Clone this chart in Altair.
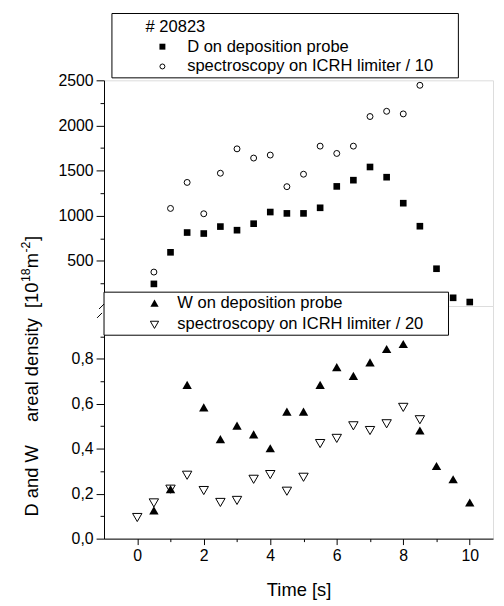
import altair as alt
import pandas as pd

# ---------------- data ----------------
time_d = [0.5, 1, 1.5, 2, 2.5, 3, 3.5, 4, 4.5, 5, 5.5, 6, 6.5, 7, 7.5, 8, 8.5, 9, 9.5, 10]
d_probe = [245, 595, 814, 803, 880, 840, 912, 1041, 1026, 1026, 1088, 1325, 1394, 1540, 1427, 1139, 884, 413, 91, 44]

time_d_spec = [0.5, 1, 1.5, 2, 2.5, 3, 3.5, 4, 4.5, 5, 5.5, 6, 6.5, 7, 7.5, 8, 8.5]
d_spec = [376, 1081, 1369, 1022, 1471, 1741, 1639, 1672, 1322, 1460, 1771, 1690, 1771, 2099, 2157, 2128, 2445]

time_w = [0.5, 1, 1.5, 2, 2.5, 3, 3.5, 4, 4.5, 5, 5.5, 6, 6.5, 7, 7.5, 8, 8.5, 9, 9.5, 10]
w_probe = [0.126, 0.22, 0.684, 0.584, 0.443, 0.503, 0.464, 0.402, 0.565, 0.565, 0.684, 0.763, 0.724, 0.784, 0.844, 0.866, 0.481, 0.323, 0.264, 0.161]

time_w_spec = [0, 0.5, 1, 1.5, 2, 2.5, 3, 3.5, 4, 4.5, 5, 5.5, 6, 6.5, 7, 7.5, 8, 8.5]
w_spec = [0.094, 0.159, 0.22, 0.282, 0.214, 0.161, 0.170, 0.264, 0.285, 0.211, 0.273, 0.423, 0.446, 0.502, 0.481, 0.511, 0.584, 0.529]

x_ticks = [0, 1, 2, 3, 4, 5, 6, 7, 8, 9, 10]
d_ticks = [250, 500, 750, 1000, 1250, 1500, 1750, 2000, 2250, 2500]
w_ticks = [0.0, 0.1, 0.2, 0.3, 0.4, 0.5, 0.6, 0.7, 0.8, 0.9]

shot_label = "# 20823"
legend_top = ["D on deposition probe", "spectroscopy on ICRH limiter / 10"]
legend_bot = ["W on deposition probe", "spectroscopy on ICRH limiter / 20"]
x_title = "Time [s]"
y_title_main = "D and W\u2003\u00a0areal density \u00a0[10"
y_title_sup1 = "18"
y_title_mid = "m"
y_title_sup2 = "-2"
y_title_end = "]"

# ---------------- styling ----------------
FONT = "Liberation Sans"
FS = 16          # tick labels
FS_LEG = 16.7    # legend text
FS_TITLE = 18.5  # axis titles
FS_SUP = 12.5
W = 393
H_TOP = 228
H_BOT = 235

df_dp = pd.DataFrame({"t": time_d, "v": d_probe})
df_ds = pd.DataFrame({"t": time_d_spec, "v": d_spec})
df_wp = pd.DataFrame({"t": time_w, "v": w_probe})
df_ws = pd.DataFrame({"t": time_w_spec, "v": w_spec})
one = pd.DataFrame({"k": [0]})

x_scale = alt.Scale(domain=[-1, 10.7], nice=False, zero=False)
top_scale = alt.Scale(domain=[0, 2500], nice=False, zero=False)
bot_scale = alt.Scale(domain=[0, 1.035], nice=False, zero=False)

axis_common = dict(
    grid=False, domainColor="black", tickColor="black", labelColor="black",
    labelFont=FONT, labelFontSize=FS, titleFont=FONT, titleFontSize=FS_TITLE,
    titleColor="black", titleFontWeight="normal", domainWidth=1, tickWidth=1,
    labelOverlap=False,
)

top_y_axis = alt.Axis(
    values=d_ticks,
    labelExpr="(datum.value / 500) == round(datum.value / 500) ? format(datum.value, 'd') : ''",
    tickSize={"condition": {"test": "(datum.value / 500) != round(datum.value / 500)", "value": 4}, "value": 8},
    labelPadding=3, title=None, **axis_common,
)
bot_y_axis = alt.Axis(
    values=w_ticks,
    labelExpr="round(datum.value*10) % 2 == 0 ? replace(format(datum.value, '.1f'), '.', ',') : ''",
    tickSize={"condition": {"test": "round(datum.value*10) % 2 == 1", "value": 4}, "value": 8},
    labelPadding=3, title=None, **axis_common,
)
bot_x_axis = alt.Axis(
    values=x_ticks,
    labelExpr="datum.value % 2 == 0 ? datum.label : ''",
    tickSize={"condition": {"test": "datum.value % 2 == 1", "value": 3}, "value": 6},
    labelPadding=3, title=x_title, titlePadding=17, **axis_common,
)

# ---------------- top panel (D) ----------------
sq = alt.Chart(df_dp).mark_point(shape="square", filled=True, color="black", size=45, opacity=1).encode(
    x=alt.X("t:Q", scale=x_scale, axis=None),
    y=alt.Y("v:Q", scale=top_scale, axis=top_y_axis),
)
ci = alt.Chart(df_ds).mark_point(shape="circle", filled=False, color="black", size=36, strokeWidth=1, opacity=1).encode(
    x=alt.X("t:Q", scale=x_scale, axis=None),
    y=alt.Y("v:Q", scale=top_scale, axis=top_y_axis),
)
leg_box_top = alt.Chart(one).mark_rect(fill="white", stroke="black", strokeWidth=1).encode(
    x=alt.value(8), x2=alt.value(358), y=alt.value(-67.5), y2=alt.value(-2.5)
)
txt_kw = dict(font=FONT, fontSize=FS_LEG, color="black", align="left", baseline="middle")
leg_shot = alt.Chart(one).mark_text(**txt_kw).encode(
    x=alt.value(42), y=alt.value(-54), text=alt.value(shot_label))
leg_t1 = alt.Chart(one).mark_text(**txt_kw).encode(
    x=alt.value(84), y=alt.value(-34), text=alt.value(legend_top[0]))
leg_t2 = alt.Chart(one).mark_text(**txt_kw).encode(
    x=alt.value(84), y=alt.value(-14), text=alt.value(legend_top[1]))
leg_s1 = alt.Chart(one).mark_point(shape="square", filled=True, color="black", size=36, opacity=1).encode(
    x=alt.value(59), y=alt.value(-34))
leg_s2 = alt.Chart(one).mark_point(shape="circle", filled=False, color="black", size=25, strokeWidth=1, opacity=1).encode(
    x=alt.value(59), y=alt.value(-14))
# invisible anchors fixing the page-edge alignment (left and top)
anchor = alt.Chart(one).mark_rect(opacity=0).encode(
    x=alt.value(-96), x2=alt.value(-95), y=alt.value(-68.7), y2=alt.value(-67.7))

top = alt.layer(sq, ci, leg_box_top, leg_shot, leg_t1, leg_t2, leg_s1, leg_s2, anchor).properties(
    width=W, height=H_TOP)

# ---------------- bottom panel (W) ----------------
tu = alt.Chart(df_wp).mark_point(shape="triangle-up", filled=True, color="black", size=90, opacity=1).encode(
    x=alt.X("t:Q", scale=x_scale, axis=bot_x_axis),
    y=alt.Y("v:Q", scale=bot_scale, axis=bot_y_axis),
)
td = alt.Chart(df_ws).mark_point(shape="triangle-down", filled=False, color="black", size=90, strokeWidth=1, opacity=1).encode(
    x=alt.X("t:Q", scale=x_scale, axis=bot_x_axis),
    y=alt.Y("v:Q", scale=bot_scale, axis=bot_y_axis),
)
leg_box_bot = alt.Chart(one).mark_rect(fill="white", stroke="black", strokeWidth=1).encode(
    x=alt.value(0), x2=alt.value(348), y=alt.value(-14), y2=alt.value(29.5)
)
leg_b1 = alt.Chart(one).mark_text(**txt_kw).encode(
    x=alt.value(74), y=alt.value(-3), text=alt.value(legend_bot[0]))
leg_b2 = alt.Chart(one).mark_text(**txt_kw).encode(
    x=alt.value(74), y=alt.value(18), text=alt.value(legend_bot[1]))
leg_bs1 = alt.Chart(one).mark_point(shape="triangle-up", filled=True, color="black", size=70, opacity=1).encode(
    x=alt.value(51), y=alt.value(-3))
leg_bs2 = alt.Chart(one).mark_point(shape="triangle-down", filled=False, color="black", size=70, strokeWidth=1, opacity=1).encode(
    x=alt.value(51), y=alt.value(19))
brk1 = alt.Chart(one).mark_rule(color="black", strokeWidth=1).encode(
    x=alt.value(-5), x2=alt.value(0), y=alt.value(3), y2=alt.value(-2))
brk2 = alt.Chart(one).mark_rule(color="black", strokeWidth=1).encode(
    x=alt.value(-7), x2=alt.value(-2), y=alt.value(12), y2=alt.value(7))

# rotated y-axis title assembled from pieces (superscripts)
BX = -67      # baseline x (relative to plot left)
SX = -75      # superscript baseline x
YA = -23.7    # y where "[10" ends
w_sup1 = 2 * 0.556 * FS_SUP
w_m = 0.833 * FS_TITLE
w_sup2 = (0.333 + 0.556) * FS_SUP
rot_kw = dict(font=FONT, color="black", baseline="alphabetic", angle=270)
t_main = alt.Chart(one).mark_text(fontSize=FS_TITLE, align="right", **rot_kw).encode(
    x=alt.value(BX), y=alt.value(YA), text=alt.value(y_title_main))
t_sup1 = alt.Chart(one).mark_text(fontSize=FS_SUP, align="left", **rot_kw).encode(
    x=alt.value(SX), y=alt.value(YA - 0.5), text=alt.value(y_title_sup1))
t_mid = alt.Chart(one).mark_text(fontSize=FS_TITLE, align="left", **rot_kw).encode(
    x=alt.value(BX), y=alt.value(YA - w_sup1 - 0.5), text=alt.value(y_title_mid))
t_sup2 = alt.Chart(one).mark_text(fontSize=FS_SUP, align="left", **rot_kw).encode(
    x=alt.value(SX), y=alt.value(YA - w_sup1 - w_m - 1), text=alt.value(y_title_sup2))
t_end = alt.Chart(one).mark_text(fontSize=FS_TITLE, align="left", **rot_kw).encode(
    x=alt.value(BX), y=alt.value(YA - w_sup1 - w_m - w_sup2 - 1.5), text=alt.value(y_title_end))

bottom = alt.layer(tu, td, leg_box_bot, leg_b1, leg_b2, leg_bs1, leg_bs2, brk1, brk2,
                   t_main, t_sup1, t_mid, t_sup2, t_end).properties(width=W, height=H_BOT)

chart = alt.vconcat(top, bottom, spacing=0, bounds="flush").properties(
    padding={"left": 0, "top": 0, "right": 2, "bottom": 5}
).configure_view(strokeWidth=0).configure(background="white")

chart.save("out.html", embed_options={"renderer": "svg", "actions": False})
